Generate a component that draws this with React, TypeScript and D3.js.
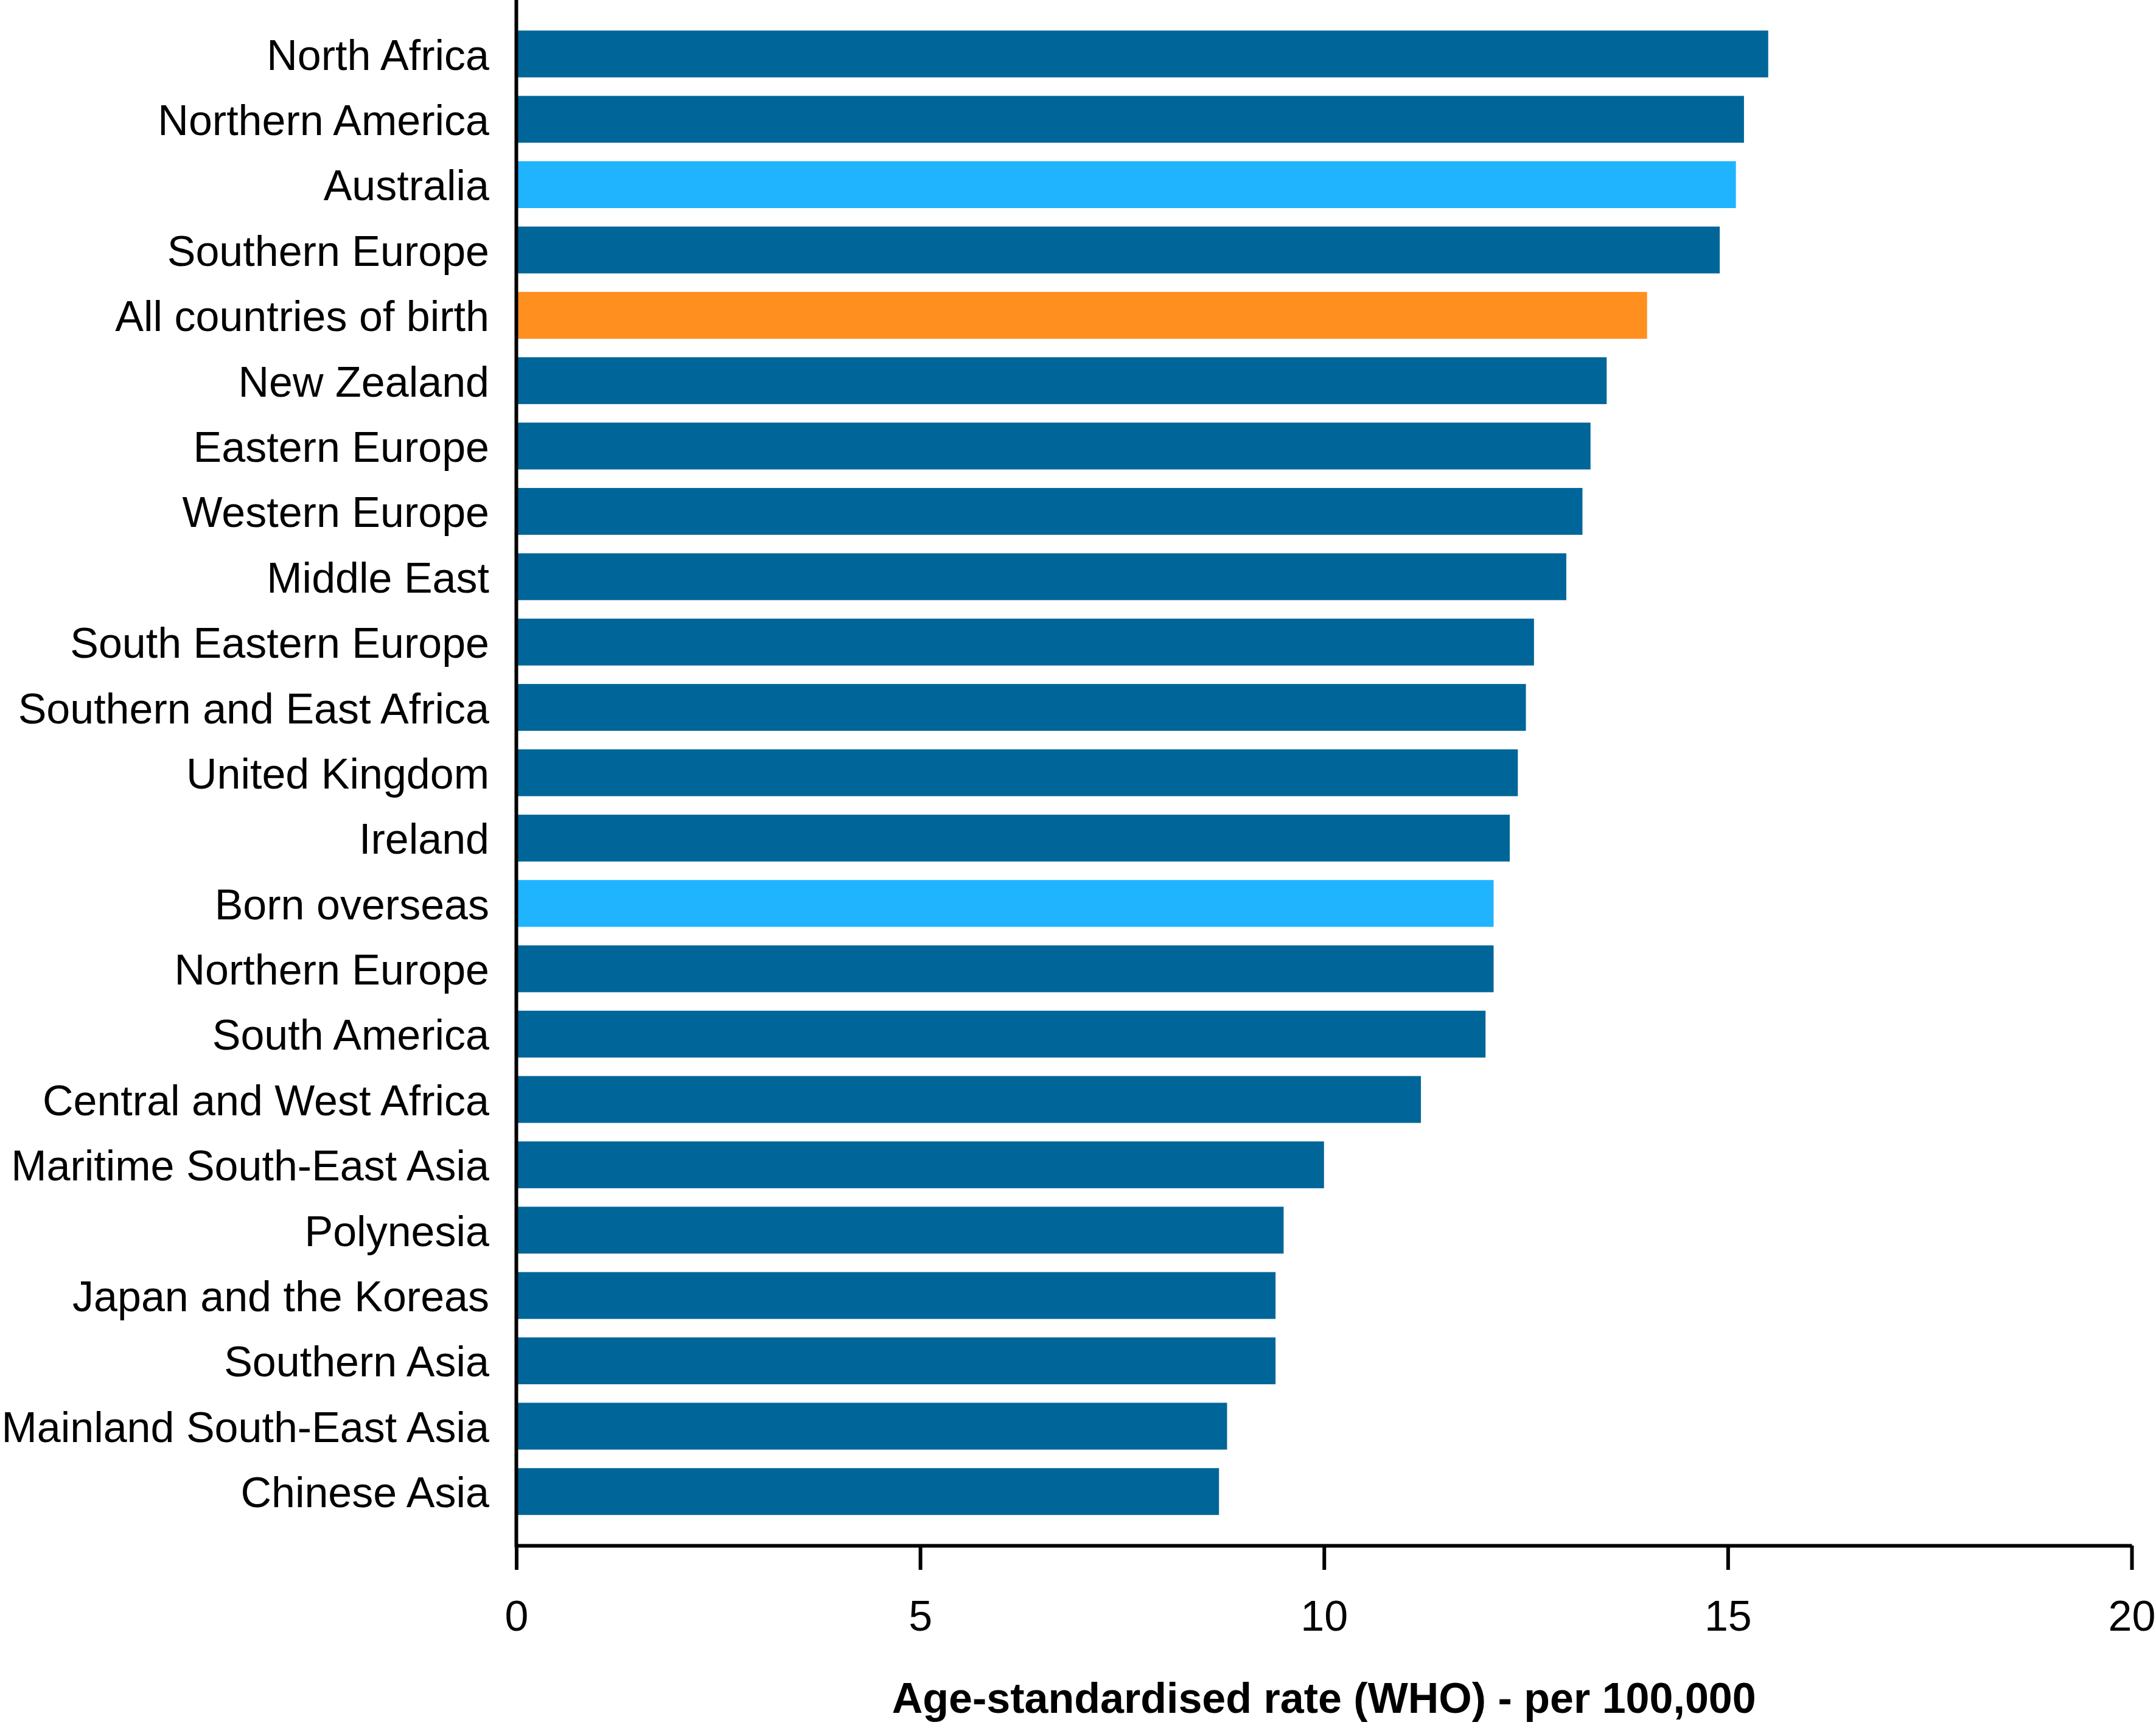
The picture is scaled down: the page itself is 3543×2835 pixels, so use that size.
import React, { useEffect, useRef } from "react";
import { select, scaleBand, scaleLinear, axisBottom } from "d3";

const categories = [
  "North Africa",
  "Northern America",
  "Australia",
  "Southern Europe",
  "All countries of birth",
  "New Zealand",
  "Eastern Europe",
  "Western Europe",
  "Middle East",
  "South Eastern Europe",
  "Southern and East Africa",
  "United Kingdom",
  "Ireland",
  "Born overseas",
  "Northern Europe",
  "South America",
  "Central and West Africa",
  "Maritime South-East Asia",
  "Polynesia",
  "Japan and the Koreas",
  "Southern Asia",
  "Mainland South-East Asia",
  "Chinese Asia"
];

const rates = [
  15.5, 15.2, 15.1, 14.9, 14.0, 13.5, 13.3, 13.2, 13.0, 12.6, 12.5, 12.4,
  12.3, 12.1, 12.1, 12.0, 11.2, 10.0, 9.5, 9.4, 9.4, 8.8, 8.7
];

const xTicks = [0, 5, 10, 15, 20];

const highlightAustralia = ["Australia", "Born overseas"];
const highlightTotal = ["All countries of birth"];

const colors = {
  normal: "#006699",
  light: "#20b4ff",
  total: "#ff8f1f"
};

const W = 3543;
const H = 2835;

const BarChart = () => {
  const svgRef = useRef<SVGSVGElement>(null);

  useEffect(() => {
    const svg = select(svgRef.current);
    svg.selectAll("*").remove();

    const x0 = 848.5;
    const yBottom = 2540;

    const xScale = scaleLinear().domain([0, 20]).range([x0, 3503]);
    const yScale = scaleBand()
      .domain(categories)
      .range([35, 2505])
      .paddingInner(0.283)
      .paddingOuter(0.1415);

    const data = categories.map((c, i) => ({ name: c, value: rates[i] }));

    const fillOf = (name: string) =>
      highlightTotal.includes(name)
        ? colors.total
        : highlightAustralia.includes(name)
        ? colors.light
        : colors.normal;

    // bars
    svg
      .append("g")
      .selectAll("rect")
      .data(data)
      .join("rect")
      .attr("x", xScale(0))
      .attr("y", (d) => yScale(d.name)!)
      .attr("width", (d) => xScale(d.value) - xScale(0))
      .attr("height", yScale.bandwidth())
      .attr("fill", (d) => fillOf(d.name));

    // category labels
    svg
      .append("g")
      .selectAll("text")
      .data(data)
      .join("text")
      .attr("x", 804)
      .attr("y", (d) => yScale(d.name)! + yScale.bandwidth() / 2)
      .attr("dy", "0.37em")
      .attr("text-anchor", "end")
      .attr("font-family", "Arial, 'Liberation Sans', sans-serif")
      .attr("font-size", 70)
      .attr("fill", "#000")
      .text((d) => d.name);

    // y axis line
    svg
      .append("line")
      .attr("x1", x0)
      .attr("x2", x0)
      .attr("y1", 0)
      .attr("y2", yBottom + 3)
      .attr("stroke", "#000")
      .attr("stroke-width", 6);

    // x axis
    const xAxis = axisBottom(xScale)
      .tickValues(xTicks)
      .tickSize(40)
      .tickSizeOuter(0)
      .tickPadding(50);

    const gx = svg
      .append("g")
      .attr("transform", `translate(0, ${yBottom})`)
      .call(xAxis);

    gx.select(".domain").attr("stroke", "#000").attr("stroke-width", 6);
    gx.selectAll(".tick line").attr("stroke", "#000").attr("stroke-width", 6);
    gx.selectAll(".tick text")
      .attr("font-family", "Arial, 'Liberation Sans', sans-serif")
      .attr("font-size", 70)
      .attr("fill", "#000");

    // x axis title
    svg
      .append("text")
      .attr("x", (xScale(0) + xScale(20)) / 2)
      .attr("y", 2815)
      .attr("text-anchor", "middle")
      .attr("font-family", "Arial, 'Liberation Sans', sans-serif")
      .attr("font-weight", "bold")
      .attr("font-size", 70)
      .attr("fill", "#000")
      .text("Age-standardised rate (WHO) - per 100,000");
  }, []);

  return (
    <svg
      ref={svgRef}
      width={W}
      height={H}
      style={{ position: "absolute", left: 0, top: 0, background: "#fff" }}
    />
  );
};

export default function App() {
  return <BarChart />;
}
